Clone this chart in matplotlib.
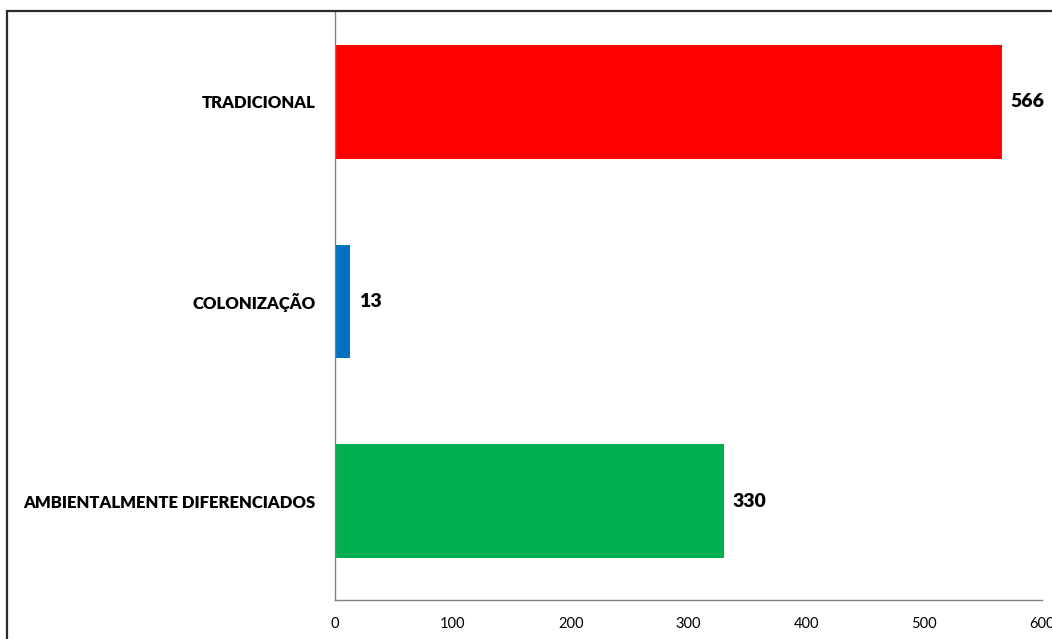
import matplotlib
matplotlib.use("Agg")
import matplotlib.pyplot as plt
from matplotlib.patches import Rectangle

# Data
categories = ["AMBIENTALMENTE DIFERENCIADOS", "COLONIZAÇÃO", "TRADICIONAL"]
values = [330, 13, 566]
colors = ["#00B050", "#0070C0", "#FF0000"]
xticks = [0, 100, 200, 300, 400, 500, 600]

plt.rcParams["font.family"] = ["Lato", "DejaVu Sans"]

W, H = 1052, 639
fig = plt.figure(figsize=(W / 100, H / 100), dpi=100)
fig.patch.set_facecolor("white")

# Outer chart frame
fig.patches.append(Rectangle((7 / W, -0.2), 1.2, 1.2 - 11 / H,
                             transform=fig.transFigure, fill=False,
                             edgecolor="#2b2b2b", linewidth=1.6, zorder=0))

ax = fig.add_axes([335 / W, 1 - 600 / H, (1042 - 335) / W, (600 - 11) / H])
ax.set_facecolor("none")

pos = list(range(len(categories)))
ax.barh(pos, values, height=0.57, color=colors)

for p, v in zip(pos, values):
    ax.text(v + 7, p, str(v), va="center", ha="left",
            fontsize=14, fontweight="heavy", color="black")

ax.set_xlim(0, 600)
ax.set_ylim(-0.495, 2.455)
ax.set_xticks(xticks)
ax.set_xticklabels([str(t) for t in xticks], fontsize=10.5)
ax.set_yticks(pos)
ax.set_yticklabels(categories, fontsize=12, fontweight="heavy")
ax.tick_params(axis="x", length=0, pad=12)
ax.tick_params(axis="y", length=0, pad=14)

for side in ["top", "right"]:
    ax.spines[side].set_visible(False)
for side in ["left", "bottom"]:
    ax.spines[side].set_color("#808080")
    ax.spines[side].set_linewidth(1.0)

fig.savefig("out.png", dpi=100)
